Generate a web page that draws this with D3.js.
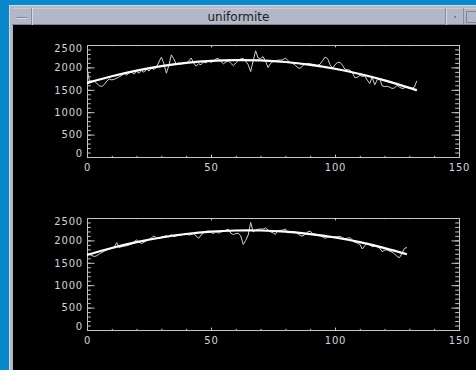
<!DOCTYPE html>
<html><head><meta charset="utf-8">
<script src="https://cdn.jsdelivr.net/npm/d3@7"></script>
<style>
html,body{margin:0;padding:0;background:#0a88cc;overflow:hidden}
svg{display:block}
</style></head>
<body>
<svg id="c" width="476" height="370"></svg>
<script>
// ---- data ----
const windowTitle = "uniformite";
const xTickLabels = [0, 50, 100, 150];
const yTickLabels = [0, 500, 1000, 1500, 2000, 2500];

// panel 1 : measured profile (index 0..133)
const profile1 = [1980,1690,1700,1690,1640,1590,1575,1620,1700,1740,
1720,1735,1760,1790,1820,1870,1830,1880,1900,1850,
1910,1870,1930,1890,1960,1920,1990,1950,2010,2120,
2230,2080,1870,2040,2280,2190,2070,2100,2070,2110,
2090,2140,2210,2100,2030,2080,2060,2120,2100,2150,
2110,2140,2190,2200,2130,2080,2120,2150,2090,2040,
2100,2150,2190,2200,2140,2060,1905,2150,2370,2210,
2200,2240,2140,1995,2090,2130,2150,2160,2165,2170,
2210,2150,2110,2090,2050,1990,1980,2040,2080,2090,
2080,2070,2060,2050,2070,2150,2230,2200,2060,1980,
2060,2110,2115,2050,1960,1950,1940,1880,1770,1780,
1820,1800,1810,1720,1640,1780,1610,1720,1750,1590,
1570,1580,1560,1530,1540,1600,1560,1530,1540,1570,
1530,1530,1560,1700];
// panel 1 : smooth fit
const fit1X = [0,10,20,30,40,50,60,70,80,90,100,110,120,130,133];
const fit1Y = [1650,1802,1928,2027,2099,2145,2163,2155,2120,2058,1969,1853,1711,1542,1488];

// panel 2 : measured profile (index 0..129)
const profile2 = [1710,1690,1660,1640,1660,1700,1730,1760,1790,1800,
1830,1850,1950,1840,1860,1870,1880,1900,1920,1970,
2010,1960,1930,1960,1990,2020,2060,2100,2050,2040,
2070,2090,2105,2080,2135,2080,2100,2110,2120,2140,
2160,2120,2130,2150,2100,2046,2120,2170,2200,2210,
2180,2150,2200,2160,2190,2200,2230,2250,2160,2130,
2150,2160,2100,1910,2000,2120,2400,2190,2230,2250,
2255,2250,2280,2230,2190,2170,2136,2220,2225,2230,
2254,2165,2190,2195,2190,2150,2106,2100,2140,2190,
2210,2150,2140,2120,2100,2080,2046,2070,2080,2085,
2080,2083,2090,2060,2040,2050,2060,2010,1957,1940,
1913,1808,1880,1935,1900,1860,1870,1860,1830,1750,
1780,1790,1760,1740,1700,1640,1614,1711,1823,1840];
// panel 2 : smooth fit
const fit2X = [0,10,20,30,40,50,60,70,80,90,100,110,120,129];
const fit2Y = [1675,1831,1961,2065,2143,2195,2221,2221,2195,2142,2064,1960,1829,1690];

// ---- drawing ----
const svg = d3.select("#c");
// desktop + window frame
svg.append("rect").attr("x",0).attr("y",0).attr("width",476).attr("height",370).attr("fill","#0a88cc");
svg.append("rect").attr("x",9).attr("y",5).attr("width",470).attr("height",370).attr("fill","#b3b7c7");
svg.append("line").attr("x1",9).attr("x2",476).attr("y1",5.5).attr("y2",5.5).attr("stroke","#d6d9e4");
svg.append("line").attr("x1",9.5).attr("x2",9.5).attr("y1",5).attr("y2",370).attr("stroke","#d6d9e4");
svg.append("line").attr("x1",12).attr("x2",476).attr("y1",8.5).attr("y2",8.5).attr("stroke","#c9ccd8");
svg.append("line").attr("x1",12).attr("x2",476).attr("y1",24.5).attr("y2",24.5).attr("stroke","#7d8190");
// title bar buttons
svg.append("line").attr("x1",31.5).attr("x2",31.5).attr("y1",8).attr("y2",25).attr("stroke","#8a8e9c");
svg.append("line").attr("x1",32.5).attr("x2",32.5).attr("y1",8).attr("y2",25).attr("stroke","#d6d9e4");
svg.append("line").attr("x1",17).attr("x2",27).attr("y1",17.5).attr("y2",17.5).attr("stroke","#80848f");
svg.append("line").attr("x1",17).attr("x2",27).attr("y1",18.5).attr("y2",18.5).attr("stroke","#dfe1ea");
svg.append("line").attr("x1",445.5).attr("x2",445.5).attr("y1",8).attr("y2",25).attr("stroke","#8a8e9c");
svg.append("line").attr("x1",446.5).attr("x2",446.5).attr("y1",8).attr("y2",25).attr("stroke","#d6d9e4");
svg.append("rect").attr("x",454).attr("y",16).attr("width",2).attr("height",2).attr("fill","#80848f");
svg.append("line").attr("x1",463.5).attr("x2",463.5).attr("y1",8).attr("y2",25).attr("stroke","#8a8e9c");
svg.append("rect").attr("x",466.5).attr("y",11.5).attr("width",14).attr("height",11).attr("fill","none").attr("stroke","#80848f");
svg.append("text").attr("x",238.5).attr("y",21).attr("text-anchor","middle")
  .attr("font-family","DejaVu Sans").attr("font-size",12).attr("fill","#1c1c1c").text(windowTitle);
// black drawing area
svg.append("rect").attr("x",13).attr("y",25).attr("width",463).attr("height",345).attr("fill","#000");

const x = d3.scaleLinear().domain([0,150]).range([87,459]);
const axisColor = "#c4c4c4";
const xMinor = d3.range(0,151,10);
const yMinor = d3.range(0,2501,100);

function panel(top, bottom, prof, fx, fy){
  const y = d3.scaleLinear().domain([0,2500]).range([bottom, top]);
  const g = svg.append("g");
  const style = sel => {
    sel.selectAll("path,line").attr("stroke",axisColor).attr("stroke-width",1);
    sel.selectAll("text").attr("fill","#d4d4d4").attr("font-family","DejaVu Sans")
      .attr("font-size",10).attr("letter-spacing","0.8px");
  };
  // minor ticks
  g.append("g").attr("transform",`translate(0,${bottom})`)
    .call(d3.axisBottom(x).tickValues(xMinor).tickSize(-1.2).tickSizeOuter(0).tickFormat("")).call(style);
  g.append("g").attr("transform",`translate(0,${top})`)
    .call(d3.axisTop(x).tickValues(xMinor).tickSize(-1.2).tickSizeOuter(0).tickFormat("")).call(style);
  g.append("g").attr("transform",`translate(87,0)`)
    .call(d3.axisLeft(y).tickValues(yMinor).tickSize(-3.8).tickSizeOuter(0).tickFormat("")).call(style);
  g.append("g").attr("transform",`translate(459,0)`)
    .call(d3.axisRight(y).tickValues(yMinor).tickSize(-3.8).tickSizeOuter(0).tickFormat("")).call(style);
  // major ticks + labels
  g.append("g").attr("transform",`translate(0,${bottom})`)
    .call(d3.axisBottom(x).tickValues(xTickLabels).tickSize(-2.4).tickSizeOuter(0).tickPadding(7).tickFormat(d3.format("d"))).call(style);
  g.append("g").attr("transform",`translate(0,${top})`)
    .call(d3.axisTop(x).tickValues(xTickLabels).tickSize(-2.4).tickSizeOuter(0).tickFormat("")).call(style);
  const ly = g.append("g").attr("transform",`translate(87,0)`)
    .call(d3.axisLeft(y).tickValues(yTickLabels).tickSize(-7.5).tickSizeOuter(0).tickPadding(4).tickFormat(d3.format("d"))).call(style);
  ly.selectAll(".tick text").attr("y", d => d===2500 ? 3.3 : (d===0 ? -3.7 : 0));
  g.append("g").attr("transform",`translate(459,0)`)
    .call(d3.axisRight(y).tickValues(yTickLabels).tickSize(-7.5).tickSizeOuter(0).tickFormat("")).call(style);

  // profile
  g.append("path").datum(prof)
    .attr("fill","none").attr("stroke","#d0d0d0").attr("stroke-width",1)
    .attr("d", d3.line().x((d,i)=>x(i)).y(d=>y(d)));
  // fit
  g.append("path").datum(fx.map((v,i)=>[v,fy[i]]))
    .attr("fill","none").attr("stroke","#ffffff").attr("stroke-width",2.2)
    .attr("d", d3.line().x(d=>x(d[0])).y(d=>y(d[1])).curve(d3.curveNatural));
}
panel(45, 157, profile1, fit1X, fit1Y);
panel(218, 330, profile2, fit2X, fit2Y);
</script>
</body></html>
